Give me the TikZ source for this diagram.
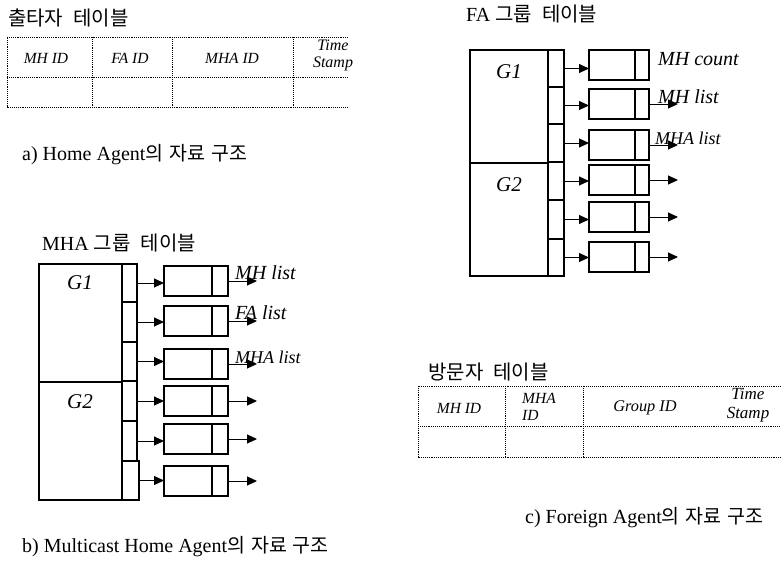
\documentclass[tikz,border=0pt]{standalone}
\usepackage{fontspec}
\setmainfont{Liberation Serif}
\newfontfamily\kr{Noto Sans CJK KR}
\newcommand{\ksp}{\hspace{10pt}}
\newcommand{\csp}{\hspace{6pt}}
\usetikzlibrary{arrows.meta,calc}
\begin{document}
\begin{tikzpicture}[x=1pt,y=-1pt,
  cell/.style={draw, line width=1.2pt, inner sep=0pt, outer sep=0pt, anchor=north west},
  rec/.style={draw, line width=1.1pt, minimum height=30pt, inner sep=0pt, outer sep=0pt, anchor=west},
  arr/.style={-{Triangle[length=10pt,width=9pt]}, line width=1pt},
  tab/.style={densely dotted, line width=0.9pt},
  hd/.style={font=\fontsize{15.5}{17}\selectfont\itshape, inner sep=0pt},
  hd2/.style={font=\fontsize{16}{17}\selectfont\itshape, inner sep=0pt, align=center},
  ttl/.style={font=\fontsize{20}{22}\selectfont\kr, anchor=west, inner sep=0pt},
  ttlb/.style={font=\fontsize{20}{22}\selectfont, anchor=west, inner sep=0pt},
  captxt/.style={font=\fontsize{20}{22}\selectfont, anchor=west, inner sep=0pt},
  gl/.style={font=\fontsize{21}{22}\selectfont\itshape, inner sep=0pt},
  lbl/.style={font=\fontsize{20}{20}\selectfont\itshape, anchor=west, inner sep=0pt},
  lbls/.style={font=\fontsize{18}{18}\selectfont\itshape, anchor=west, inner sep=0pt}]
\useasboundingbox (0,0) rectangle (781,562);

% ---------- a) Home Agent table ----------
\node[ttl] (t1) at (8,18) {출타자\ksp 테이블};
\draw[tab] (348,37) -- (7,37) -- (7,107) -- (348,107);
\draw[tab] (7,77) -- (348,77);
\draw[tab] (92,37) -- (92,107);
\draw[tab] (172,37) -- (172,107);
\draw[tab] (293,37) -- (293,107);
\node[hd] (h1a) at (46,58) {MH ID};
\node[hd] (h1b) at (130,58) {FA ID};
\node[hd] (h1c) at (232,58) {MHA ID};
\node[hd2] (h1d) at (333,55) {Time\\Stamp};
\node[captxt] (ca) at (22,155) {a) Home Agent{\kr\fontsize{19.5}{22}\selectfont 의\csp 자료\csp 구조}};

% ---------- b) MHA group table ----------
\node[ttlb] (t2) at (42,243) {MHA {\kr 그룹\ksp 테이블}};
\node[cell, minimum width=83pt, minimum height=118pt] (mg1) at (39,264) {};
\node[cell, minimum width=83pt, minimum height=118pt] (mg2) at (39,382) {};
\node[gl] (mg1l) at (80,283) {G1};
\node[gl] (mg2l) at (80,402) {G2};
\node[cell, minimum width=15pt, minimum height=38pt] (mc1) at (122,264) {};
\node[cell, minimum width=15pt, minimum height=40pt] (mc2) at (122,302) {};
\node[cell, minimum width=15pt, minimum height=39pt] (mc3) at (122,342) {};
\node[cell, minimum width=15pt, minimum height=40pt] (mc4) at (122,381) {};
\node[cell, minimum width=15pt, minimum height=40pt] (mc5) at (122,421) {};
\node[cell, minimum width=17pt, minimum height=39pt] (mc6) at (122,461) {};
\foreach \i/\yy in {1/281,2/321,3/364,4/401,5/439,6/481}{
  \node[rec, minimum width=48pt] (mr\i) at (164,\yy) {};
  \node[rec, minimum width=16pt] (mr\i t) at (mr\i.east) {};
  \draw[arr] (mc\i.east) -- (mc\i.east -| mr\i.west);
  \coordinate (mo\i) at ($(mr\i t.east)+(29,0)$);
  \draw[arr] (mr\i t.east) -- (mo\i);
}
\node[lbl] (ml1) at (235,273) {MH list};
\node[lbl] (ml2) at (235,313) {FA list};
\node[lbls] (ml3) at (235,357) {MHA list};
\node[captxt] (cb) at (22,547) {b) Multicast Home Agent{\kr\fontsize{19.5}{22}\selectfont 의\csp 자료\csp 구조}};

% ---------- FA group table ----------
\node[ttlb] (t3) at (466,14) {FA {\kr 그룹\ksp 테이블}};
\node[cell, minimum width=78pt, minimum height=113pt] (fg1) at (470,50) {};
\node[cell, minimum width=78pt, minimum height=113pt] (fg2) at (470,163) {};
\node[gl] (fg1l) at (509,72) {G1};
\node[gl] (fg2l) at (509,185) {G2};
\node[cell, minimum width=16pt, minimum height=37pt] (fc1) at (548,50) {};
\node[cell, minimum width=16pt, minimum height=37pt] (fc2) at (548,87) {};
\node[cell, minimum width=16pt, minimum height=38pt] (fc3) at (548,124) {};
\node[cell, minimum width=16pt, minimum height=38pt] (fc4) at (548,162) {};
\node[cell, minimum width=16pt, minimum height=39pt] (fc5) at (548,200) {};
\node[cell, minimum width=16pt, minimum height=37pt] (fc6) at (548,239) {};
\foreach \i/\yy in {1/65,2/104,3/145,4/180,5/217,6/257}{
  \node[rec, minimum width=46pt] (fr\i) at (589,\yy) {};
  \node[rec, minimum width=14pt] (fr\i t) at (fr\i.east) {};
  \draw[arr] (fc\i.east) -- (fc\i.east -| fr\i.west);
}
\foreach \i in {2,...,6}{
  \coordinate (fo\i) at ($(fr\i t.east)+(29,0)$);
  \draw[arr] (fr\i t.east) -- (fo\i);
}
\node[lbl] (fl1) at (658,59) {MH count};
\node[lbl] (fl2) at (658,97) {MH list};
\node[lbls] (fl3) at (655,138) {MHA list};

% ---------- c) visitor table ----------
\node[ttl] (t4) at (428,372) {방문자\ksp 테이블};
\draw[tab] (781,386) -- (418,386) -- (418,457) -- (781,457);
\draw[tab] (418,426) -- (781,426);
\draw[tab] (505,386) -- (505,457);
\draw[tab] (583,386) -- (583,457);
\node[hd] (h2a) at (459,408) {MH ID};
\node[hd, align=left, anchor=west] (h2b) at (522,406.5) {MHA\\ID};
\node[hd, font=\fontsize{16.3}{17}\selectfont\itshape] (h2c) at (645,408) {Group ID};
\node[hd2, font=\fontsize{17}{19}\selectfont\itshape] (h2d) at (748,405) {Time\\Stamp};
\node[captxt] (cc) at (525,518) {c) Foreign Agent{\kr\fontsize{19.5}{22}\selectfont 의\csp 자료\csp 구조}};
\end{tikzpicture}
\end{document}
